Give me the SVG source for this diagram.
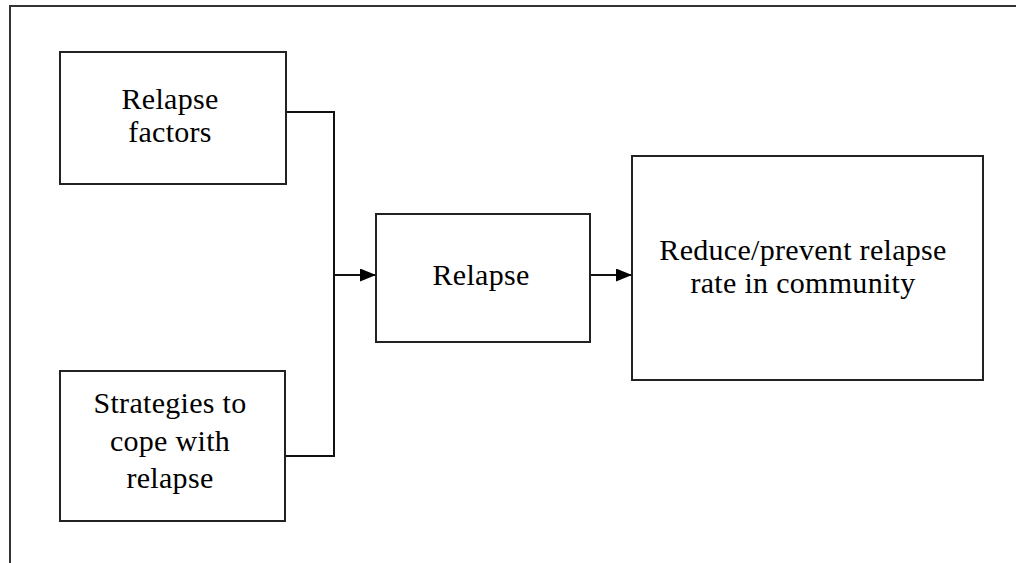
<svg xmlns="http://www.w3.org/2000/svg" width="1016" height="563" viewBox="0 0 1016 563">
<style>
.box{fill:#fff;stroke:#222;stroke-width:2}
.frame{fill:none;stroke:#333;stroke-width:2}
.ln{fill:none;stroke:#111;stroke-width:2}
text{font-family:"Liberation Serif","Times New Roman",serif;font-size:30px;fill:#000;text-anchor:middle;letter-spacing:0.3px}
</style>
<defs>
<marker id="ah" viewBox="0 0 16 13" refX="16" refY="6.5" markerWidth="16" markerHeight="13" markerUnits="userSpaceOnUse" orient="auto">
<path d="M0,0 L16,6.5 L0,13 z" fill="#000"/>
</marker>
</defs>
<rect width="1016" height="563" fill="#fff"/>
<path class="frame" d="M10,563 V6 H1016"/>
<g id="connectors">
<path class="ln" d="M286,112 H334 V456 H285"/>
<path class="ln" d="M334,275 H376" marker-end="url(#ah)"/>
<path class="ln" d="M590,275 H632" marker-end="url(#ah)"/>
</g>
<g id="relapse-factors">
<rect class="box" x="60" y="52" width="226" height="132"/>
<text x="170" y="109">Relapse</text>
<text x="170" y="142">factors</text>
</g>
<g id="strategies">
<rect class="box" x="60" y="371" width="225" height="150"/>
<text x="170" y="413">Strategies to</text>
<text x="170" y="451">cope with</text>
<text x="170" y="488">relapse</text>
</g>
<g id="relapse">
<rect class="box" x="376" y="214" width="214" height="128"/>
<text x="481" y="285">Relapse</text>
</g>
<g id="reduce">
<rect class="box" x="632" y="156" width="351" height="224"/>
<text x="803" y="260">Reduce/prevent relapse</text>
<text x="803" y="293">rate in community</text>
</g>
</svg>
